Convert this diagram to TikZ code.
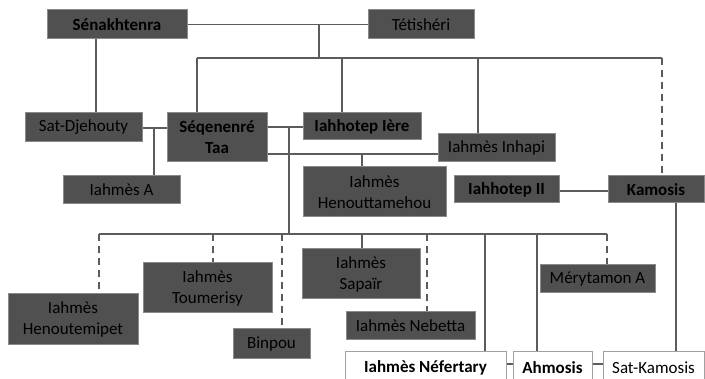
\documentclass[tikz,border=0pt]{standalone}
\usepackage{fontspec}
\setmainfont{Carlito}
\usepackage{tikz}
\definecolor{boxfill}{HTML}{505050}
\definecolor{boxedge}{HTML}{8A8A8A}
\definecolor{linegray}{HTML}{5C5C5C}
\tikzset{
  pers/.style={draw=boxedge, fill=boxfill, line width=1pt, inner sep=0pt,
    align=center, text=black, font=\fontsize{17}{19}\selectfont},
  heir/.style={pers, fill=white, draw=boxedge!80},
  lien/.style={draw=linegray, line width=1.5pt},
  douteux/.style={lien, dash pattern=on 7pt off 5pt}
}

\begin{document}
\begin{tikzpicture}[x=1pt,y=-1pt]
    \clip (0,0) rectangle (705,379);
    % first generation
    \node[pers, minimum width=140pt, minimum height=29pt, font=\fontsize{17}{19}\selectfont\bfseries] (sena) at (117,24.5) {Sénakhtenra};
    \node[pers, minimum width=106pt, minimum height=29pt] (teti) at (421,24.5) {Tétishéri};
    % second generation
    \node[pers, minimum width=117pt, minimum height=29pt] (satdj) at (83.5,127.5) {Sat-Djehouty};
    \node[pers, minimum width=100pt, minimum height=49pt, font=\fontsize{17}{21}\selectfont\bfseries] (seq) at (217,137.5) {Séqenenré\\Taa};
    \node[pers, minimum width=118pt, minimum height=27pt, font=\fontsize{17}{19}\selectfont\bfseries] (iahh1) at (362,126.5) {Iahhotep Ière};
    \node[pers, minimum width=117pt, minimum height=28pt] (inhapi) at (496.5,148) {Iahmès Inhapi};
    \node[pers, minimum width=117pt, minimum height=28pt] (iahA) at (121.5,190) {Iahmès A};
    \node[pers, minimum width=143pt, minimum height=50pt, font=\fontsize{17}{21}\selectfont] (henou) at (374.5,192) {Iahmès\\Henouttamehou};
    \node[pers, minimum width=105pt, minimum height=27pt, font=\fontsize{17}{19}\selectfont\bfseries] (iahh2) at (506.5,189.5) {Iahhotep II};
    \node[pers, minimum width=96pt, minimum height=27pt, font=\fontsize{17}{19}\selectfont\bfseries] (kamo) at (656,189.5) {Kamosis};
    % third generation
    \node[pers, minimum width=130pt, minimum height=51pt, font=\fontsize{17}{21}\selectfont] (henoutemipet) at (73,319.5) {Iahmès\\Henoutemipet};
    \node[pers, minimum width=129pt, minimum height=50pt, font=\fontsize{17}{21}\selectfont] (toum) at (207.5,288) {Iahmès\\Toumerisy};
    \node[pers, minimum width=77pt, minimum height=30pt] (binpou) at (271.5,344) {Binpou};
    \node[pers, minimum width=118pt, minimum height=50pt, font=\fontsize{17}{21}\selectfont] (sapair) at (361,274) {Iahmès\\Sapaïr};
    \node[pers, minimum width=129pt, minimum height=28pt] (nebetta) at (410.5,326) {Iahmès Nebetta};
    \node[pers, minimum width=115pt, minimum height=28pt] (meryt) at (597.5,279) {Mérytamon A};
    \node[heir, minimum width=161pt, minimum height=32pt, font=\fontsize{17}{19}\selectfont\bfseries] (nefer) at (425.5,368) {Iahmès Néfertary};
    \node[heir, minimum width=79pt, minimum height=32pt, font=\fontsize{17}{19}\selectfont\bfseries] (ahmo) at (552.5,368) {Ahmosis};
    \node[heir, minimum width=101pt, minimum height=32pt] (satkam) at (653.5,368) {Sat-Kamosis};

    % junction points
    \coordinate (m1) at (319,24.5);
    \coordinate (b1) at (319,58);
    \coordinate (b1l) at (197,58);
    \coordinate (b1r) at (662,58);
    \coordinate (m2) at (154,128);
    \coordinate (m3) at (289,127);
    \coordinate (m4) at (362,154);
    \coordinate (b2) at (289,234);
    \coordinate (b2l) at (99,234);
    \coordinate (b2r) at (607,234);

    % parents
    \draw[lien] (sena.east) -- (teti.west);
    \draw[lien] (m1) -- (b1);
    \draw[lien] (b1l) -- (b1r);
    \draw[lien] (b1l) -- (b1l |- seq.north);
    \draw[lien] (342,58) coordinate (t1) -- (t1 |- iahh1.north);
    \draw[lien] (478,58) coordinate (t2) -- (t2 |- inhapi.north);
    \draw[douteux] (b1r) -- (b1r |- kamo.north);
    \draw[lien] (96,39) coordinate (t3) -- (t3 |- satdj.north);
    % marriages
    \draw[lien] (satdj.east |- m2) -- (seq.west |- m2);
    \draw[lien] (m2) -- (m2 |- iahA.north);
    \draw[lien] (seq.east |- m3) -- (iahh1.west |- m3);
    \draw[lien] (m3) -- (b2);
    \draw[lien] (seq.east |- m4) -- (inhapi.west |- m4);
    \draw[lien] (m4) -- (m4 |- henou.north);
    \draw[lien] (iahh2.east |- 0,191) -- (kamo.west |- 0,191);
    \draw[lien] (676,203) coordinate (t4) -- (t4 |- satkam.north);
    % children
    \draw[lien] (b2l) -- (b2r);
    \draw[douteux] (b2l) -- (b2l |- henoutemipet.north);
    \draw[douteux] (213,234) coordinate (c1) -- (c1 |- toum.north);
    \draw[douteux] (282,234) coordinate (c2) -- (c2 |- binpou.north);
    \draw[lien] (362,234) coordinate (c3) -- (c3 |- sapair.north);
    \draw[douteux] (427,234) coordinate (c4) -- (c4 |- nebetta.north);
    \draw[lien] (485,234) coordinate (c5) -- (c5 |- nefer.north);
    \draw[lien] (537,234) coordinate (c6) -- (c6 |- ahmo.north);
    \draw[douteux] (b2r) -- (b2r |- meryt.north);
    \draw[lien] (nefer.east |- 0,364) -- (ahmo.west |- 0,364);
    \draw[lien] (ahmo.east |- 0,364) -- (satkam.west |- 0,364);
\end{tikzpicture}
\end{document}
